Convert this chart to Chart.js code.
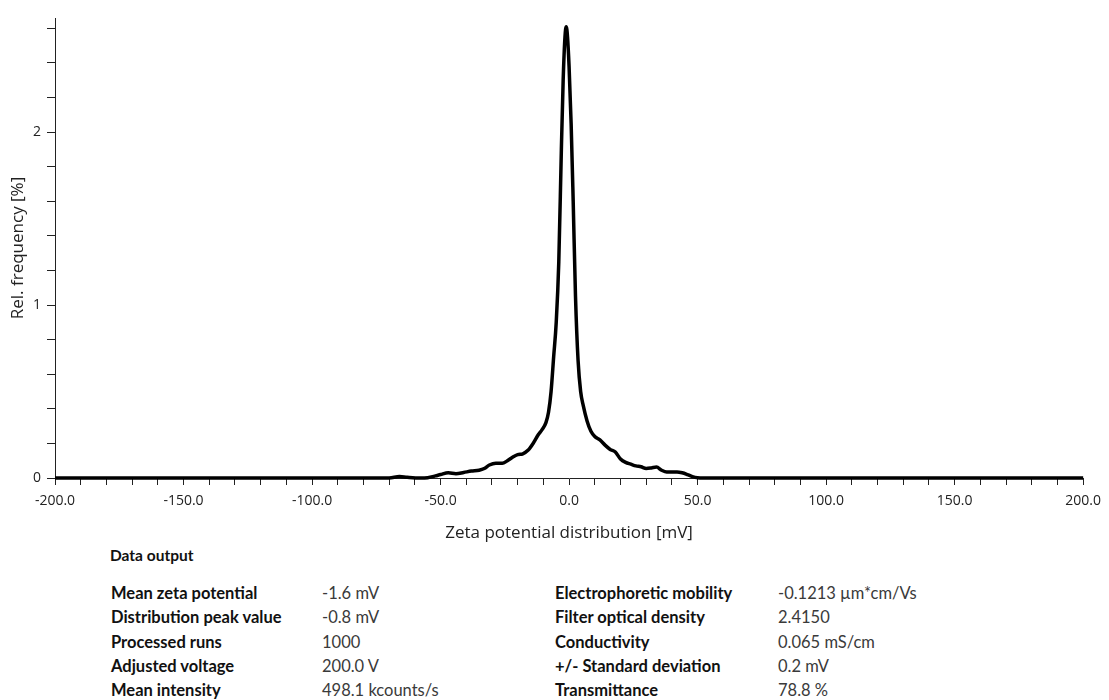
<!DOCTYPE html>
<html>
<head>
<meta charset="utf-8">
<script src="https://cdn.jsdelivr.net/npm/chart.js@4.4.1/dist/chart.umd.min.js"></script>
<style>
  body { margin: 0; background: #fff; width: 1109px; height: 700px; position: relative; overflow: hidden; }
  #wrap { position: absolute; left: 0; top: 0; width: 1109px; height: 545px; }
  .t { position: absolute; font-family: Lato, 'Open Sans', sans-serif; font-size: 16.5px; line-height: 20px; white-space: nowrap; }
  .lbl { font-weight: bold; color: #111; }
  .val { color: #3a3a3a; }
</style>
</head>
<body>
<div id="wrap"><canvas id="myChart"></canvas></div>
<div id="table"></div>
<script>
// zeta potential distribution (x in mV, y in %)
const zetaMv = [-200, -100, -70, -66, -63, -58, -55, -52, -50, -47, -44, -41, -38, -35, -33, -31, -28.5, -26, -24, -22, -20, -18, -16, -14, -12, -10.5, -9, -8, -7, -6, -5, -4, -3, -2.3, -1.6, -1.1, -0.6, 0, 0.8, 1.6, 2.5, 3.5, 4.5, 5.5, 7, 8.5, 10, 12, 14, 16, 18, 20, 22, 24, 26, 28, 30, 32, 34, 36, 38, 40, 42, 44, 46, 48, 50, 55, 100, 200];
const relFreq = [0, 0, 0, 0.008, 0.004, 0, 0.002, 0.012, 0.02, 0.03, 0.025, 0.032, 0.04, 0.045, 0.055, 0.075, 0.085, 0.085, 0.1, 0.12, 0.135, 0.14, 0.16, 0.2, 0.25, 0.28, 0.32, 0.38, 0.5, 0.7, 0.9, 1.25, 1.9, 2.3, 2.55, 2.61, 2.55, 2.38, 2.05, 1.6, 1.05, 0.68, 0.5, 0.42, 0.33, 0.27, 0.24, 0.22, 0.19, 0.165, 0.15, 0.11, 0.09, 0.08, 0.07, 0.065, 0.055, 0.058, 0.063, 0.045, 0.035, 0.035, 0.035, 0.03, 0.02, 0.008, 0.002, 0, 0, 0];

const xMajorTicks = [-200, -150, -100, -50, 0, 50, 100, 150, 200];
const yMajorTicks = [0, 1, 2];

// Data output table
const leftLabels = ['Mean zeta potential', 'Distribution peak value', 'Processed runs', 'Adjusted voltage', 'Mean intensity'];
const leftValues = ['-1.6 mV', '-0.8 mV', '1000', '200.0 V', '498.1 kcounts/s'];
const rightLabels = ['Electrophoretic mobility', 'Filter optical density', 'Conductivity', '+/- Standard deviation', 'Transmittance'];
const rightValues = ['-0.1213 µm*cm/Vs', '2.4150', '0.065 mS/cm', '0.2 mV', '78.8 %'];

const points = zetaMv.map((x, i) => ({ x: x, y: relFreq[i] }));

const ctx = document.getElementById('myChart').getContext('2d');

new Chart(ctx, {
  type: 'line',
  data: {
    datasets: [{
      data: points,
      borderColor: '#000',
      borderWidth: 3.5,
      pointRadius: 0,
      fill: false,
      cubicInterpolationMode: 'monotone',
      clip: false
    }]
  },
  options: {
    responsive: true,
    maintainAspectRatio: false,
    animation: false,
    layout: { padding: { top: 18, right: 18, left: 0, bottom: 0 } },
    scales: {
      x: {
        type: 'linear',
        min: -200,
        max: 200,
        afterFit: (s) => { s.height = 67; },
        grid: {
          drawOnChartArea: false,
          drawTicks: true,
          tickLength: 7,
          tickColor: '#222'
        },
        border: { display: true, color: '#222', width: 1 },
        ticks: {
          stepSize: 10,
          autoSkip: false,
          maxRotation: 0,
          padding: 8,
          color: '#222',
          font: { family: 'Open Sans', size: 14 },
          callback: (v) => xMajorTicks.includes(v) ? v.toFixed(1) : ''
        },
        title: {
          display: true,
          text: 'Zeta potential distribution [mV]',
          color: '#222',
          font: { family: 'Open Sans', size: 17 },
          padding: { top: 2, bottom: 2 }
        }
      },
      y: {
        type: 'linear',
        min: 0,
        max: 2.66,
        afterFit: (s) => { s.width = 55; },
        grid: {
          drawOnChartArea: false,
          drawTicks: true,
          tickLength: 8,
          tickColor: '#222'
        },
        border: { display: true, color: '#222', width: 1 },
        ticks: {
          stepSize: 0.2,
          includeBounds: false,
          autoSkip: false,
          padding: 6,
          color: '#222',
          font: { family: 'Open Sans', size: 14 },
          callback: (v) => {
            const r = Math.round(v);
            return (Math.abs(v - r) < 1e-6 && yMajorTicks.includes(r)) ? String(r) : '';
          }
        },
        title: {
          display: true,
          text: 'Rel. frequency [%]',
          color: '#222',
          font: { family: 'Open Sans', size: 17 },
          padding: { top: 8, bottom: 0 }
        }
      }
    },
    plugins: {
      legend: { display: false },
      tooltip: { enabled: false }
    }
  }
});

// table under the chart
const table = document.getElementById('table');
function addText(txt, x, yc, cls, size) {
  const d = document.createElement('div');
  d.className = 't ' + cls;
  d.textContent = txt;
  d.style.left = x + 'px';
  d.style.top = (yc - 10) + 'px';
  if (size) d.style.fontSize = size + 'px';
  table.appendChild(d);
}
addText('Data output', 110, 555, 'lbl', 15.5);
const rowY = [593, 617, 642, 666, 690];
rowY.forEach((y, i) => {
  addText(leftLabels[i], 111, y, 'lbl');
  addText(leftValues[i], 322, y, 'val');
  addText(rightLabels[i], 555, y, 'lbl');
  addText(rightValues[i], 778, y, 'val');
});
</script>
</body>
</html>
